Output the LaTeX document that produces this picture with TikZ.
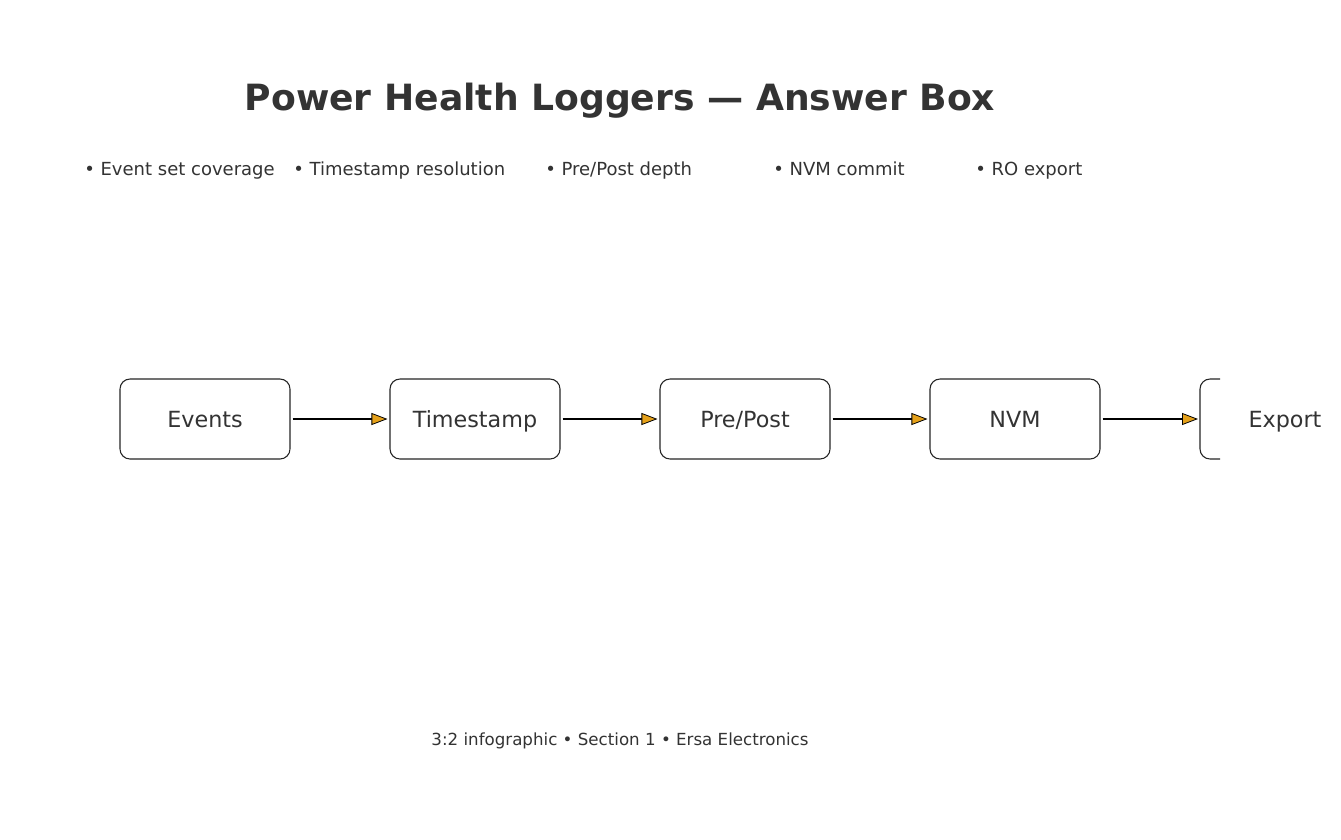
\documentclass[tikz,border=0pt]{standalone}
\usepackage{fontspec}
\setmainfont{DejaVu Sans}
\usetikzlibrary{arrows.meta}
\definecolor{txt}{HTML}{333333}
\definecolor{tipc}{HTML}{E5A11A}
\begin{document}
\begin{tikzpicture}[x=0.75pt,y=-0.75pt,
  label/.style={text=txt,font=\fontsize{16.7}{20}\selectfont,inner sep=0pt,text height=12.2pt,text depth=0pt},
  stagebox/.style={label,draw=black!85,line width=0.8pt,rounded corners=7.5pt,minimum width=127.5pt,minimum height=60pt},
  flow/.style={line width=1.1pt,-{Triangle[length=12pt,width=9pt,fill=tipc,line width=0.6pt]}},
  bullet/.style={anchor=base west,text=txt,font=\fontsize{13.5}{16}\selectfont,inner sep=0pt},
  ]
\useasboundingbox (0,0) rectangle (1341,839);
\fill[white] (0,0) rectangle (1341,839);
\node[anchor=base,text=txt,font=\bfseries\fontsize{27.1}{32}\selectfont,inner sep=0pt] (title) at (620,110) {Power Health Loggers — Answer Box};
\node[bullet] (b1) at (84,175) {• Event set coverage};
\node[bullet] (b2) at (293,175) {• Timestamp resolution};
\node[bullet] (b3) at (545,175) {• Pre/Post depth};
\node[bullet] (b4) at (773,175) {• NVM commit};
\node[bullet] (b5) at (975,175) {• RO export};
\node[stagebox] (s1) at (205,419) {Events};
\node[stagebox] (s2) at (475,419) {Timestamp};
\node[stagebox] (s3) at (745,419) {Pre/Post};
\node[stagebox] (s4) at (1015,419) {NVM};
\node[label] (s5) at (1285,419) {Export};
\coordinate (s5w) at (1200,419);
\draw[draw=black!85,line width=0.8pt,rounded corners=7.5pt] (1220,379) -- (1200,379) -- (1200,459) -- (1220,459);
\draw[flow] ([xshift=1.5pt]s1.east) -- ([xshift=-1.5pt]s2.west);
\draw[flow] ([xshift=1.5pt]s2.east) -- ([xshift=-1.5pt]s3.west);
\draw[flow] ([xshift=1.5pt]s3.east) -- ([xshift=-1.5pt]s4.west);
\draw[flow] ([xshift=1.5pt]s4.east) -- ([xshift=-1.5pt]s5w);
\node[anchor=base,text=txt,font=\fontsize{12.5}{15}\selectfont,inner sep=0pt] (foot) at (620,745) {3:2 infographic • Section 1 • Ersa Electronics};
\end{tikzpicture}
\end{document}
